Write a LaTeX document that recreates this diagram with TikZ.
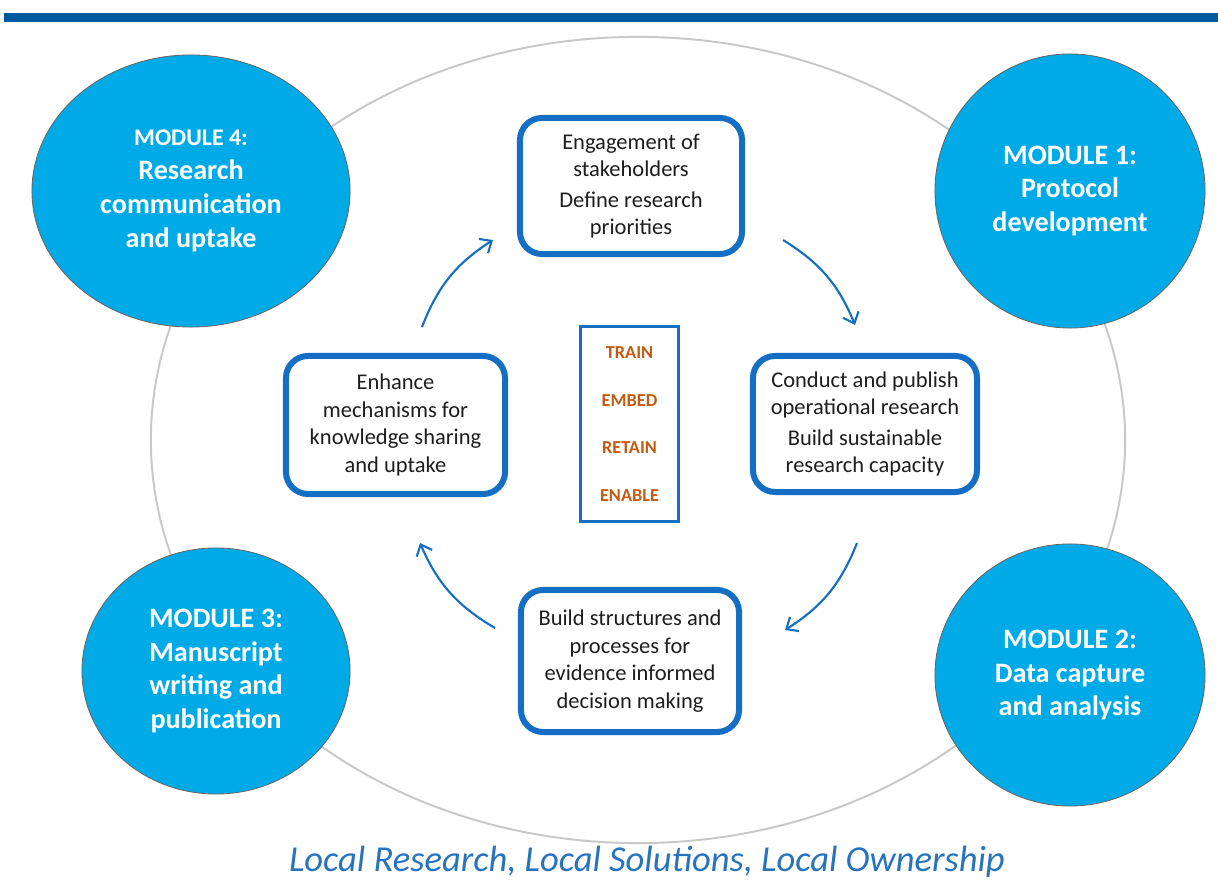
\documentclass[tikz,border=0pt]{standalone}
\usepackage{fontspec}
\setmainfont{Carlito}
\usetikzlibrary{shapes.geometric,arrows.meta}

\definecolor{barblue}{RGB}{0,90,158}
\definecolor{modblue}{RGB}{0,170,230}
\definecolor{boxblue}{RGB}{20,110,195}
\definecolor{wordorange}{RGB}{197,90,17}
\definecolor{ringgray}{RGB}{200,200,200}
\definecolor{txtgray}{RGB}{30,30,30}
\definecolor{mottoblue}{RGB}{40,115,190}

\tikzset{
  module/.style={ellipse, fill=modblue, draw=gray!80!black, line width=0.6pt,
    inner sep=0pt, align=center, text=white,
    font=\bfseries\fontsize{20}{24}\selectfont},
  stepbox/.style={rectangle, rounded corners=0.55cm, draw=boxblue,
    line width=0.15cm, fill=white, inner sep=0pt, align=center, text=txtgray,
    font=\fontsize{16}{19.5}\selectfont},
  cycle/.style={draw=boxblue, line width=1.5pt,
    -{Straight Barb[length=2.4mm,width=4.2mm]}},
}

\begin{document}
\begin{tikzpicture}[x=0.025cm,y=0.025cm]
    \useasboundingbox (0,0) rectangle (1218,880);

    % rule along the top
    \fill[barblue] (4,858) rectangle (1218,867);

    % ring that links the modules
    \draw[ringgray, line width=1.4pt] (638,440) ellipse (12.175cm and 10.075cm);

    % the four modules
    \node[module, minimum width=7.95cm, minimum height=6.8cm] (m4) at (191,689)
        {{\fontsize{17}{22}\selectfont MODULE 4:}\\Research\\communication\\and uptake};
    \node[module, minimum width=6.75cm, minimum height=6.85cm] (m1) at (1070,689)
        {MODULE 1:\\Protocol\\development};
    \node[module, minimum width=6.7cm, minimum height=6.15cm] (m3) at (216,209)
        {MODULE 3:\\Manuscript\\writing and\\publication};
    \node[module, minimum width=6.75cm, minimum height=6.55cm] (m2) at (1070,205)
        {MODULE 2:\\Data capture\\and analysis};

    % steps of the cycle
    \node[stepbox, minimum width=5.55cm, minimum height=3.4cm] (engage) at (631,694)
        {Engagement of\\stakeholders\\[2pt]Define research\\priorities};
    \node[stepbox, minimum width=5.6cm, minimum height=3.4cm] (conduct) at (865,456)
        {Conduct and publish\\operational research\\[2pt]Build sustainable\\research capacity};
    \node[stepbox, minimum width=5.45cm, minimum height=3.55cm] (structures) at (630,219)
        {Build structures and\\processes for\\evidence informed\\decision making};
    \node[stepbox, minimum width=5.475cm, minimum height=3.45cm] (enhance) at (395.5,455)
        {Enhance\\mechanisms for\\knowledge sharing\\and uptake};

    % core words in the middle
    \node[draw=boxblue, line width=2.5pt, minimum width=2.45cm, minimum height=4.875cm,
        inner sep=0pt, align=center, text=wordorange,
        font=\bfseries\fontsize{13}{34}\selectfont] (core) at (629.5,456)
        {TRAIN\\EMBED\\RETAIN\\ENABLE};

    % arrows round the cycle
    \draw[cycle] ([shift={(26.5,26)}]enhance.north) to[bend left=18] ([shift={(-24,-54)}]engage.west);
    \draw[cycle] ([shift={(38,-54)}]engage.east) to[bend left=18] ([shift={(-10,28)}]conduct.north);
    \draw[cycle] ([shift={(-8,-48)}]conduct.south) to[bend left=18] ([shift={(43,31)}]structures.east);
    \draw[cycle] ([shift={(-23,33)}]structures.west) to[bend left=18] ([shift={(24.5,-46)}]enhance.south);

    \node[font=\itshape\fontsize{26}{30}\selectfont, text=mottoblue] (motto) at (647,18)
        {Local Research, Local Solutions, Local Ownership};
\end{tikzpicture}
\end{document}
